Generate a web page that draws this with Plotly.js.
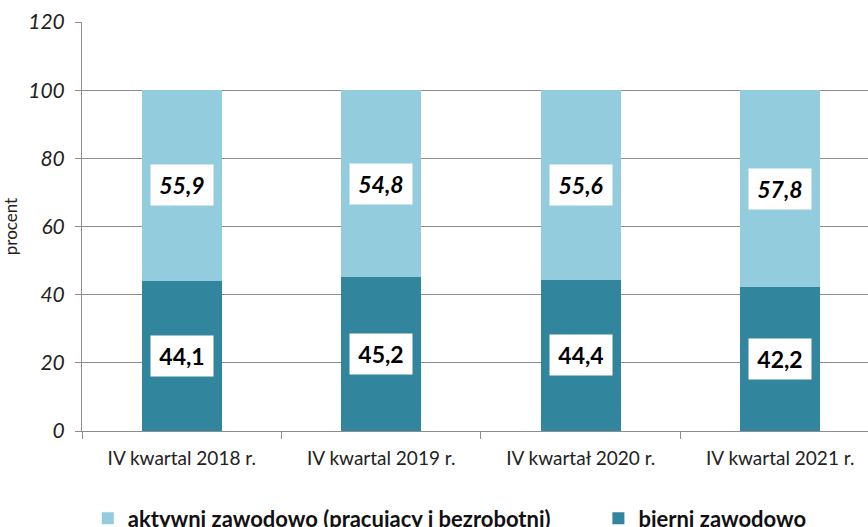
<!DOCTYPE html>
<html>
<head>
<meta charset="utf-8">
<script src="https://cdn.plot.ly/plotly-3.0.1.min.js"></script>
<style>html,body{margin:0;padding:0;background:#fff;}#chart{width:868px;height:527px;}</style>
</head>
<body>
<div id="chart"></div>
<script>
const categories = ["IV kwartal 2018 r.", "IV kwartal 2019 r.", "IV kwartał 2020 r.", "IV kwartal 2021 r."];
const bierni = [44.1, 45.2, 44.4, 42.2];
const aktywni = [55.9, 54.8, 55.6, 57.8];
const seriesNames = ["aktywni zawodowo (pracujący i bezrobotni)", "bierni zawodowo"];
const yTicks = [0, 20, 40, 60, 80, 100, 120];

const fmt = v => v.toFixed(1).replace('.', ',');
const FONT = 'Lato, "Open Sans", sans-serif';

const traces = [
  {type: 'bar', name: '<b>' + seriesNames[1] + '</b>', x: categories, y: bierni, width: 0.4,
   marker: {color: '#31859C'}, hoverinfo: 'none', legend: 'legend2'},
  {type: 'bar', name: '<b>' + seriesNames[0] + '</b>', x: categories, y: aktywni, width: 0.4,
   marker: {color: '#93CDDD'}, hoverinfo: 'none', legend: 'legend'}
];

const annotations = [];
categories.forEach((c, i) => {
  annotations.push({x: c, y: bierni[i] / 2, xref: 'x', yref: 'y', text: '<b>' + fmt(bierni[i]) + '</b>',
    showarrow: false, bgcolor: '#ffffff', borderpad: 5, width: 52, height: 30,
    font: {family: FONT, size: 23, color: '#000'}});
  annotations.push({x: c, y: bierni[i] + aktywni[i] / 2, xref: 'x', yref: 'y', text: '<b><i>' + fmt(aktywni[i]) + '</i></b>',
    showarrow: false, bgcolor: '#ffffff', borderpad: 5, width: 52, height: 30,
    font: {family: FONT, size: 23, color: '#000'}});
});

const legendFont = {family: FONT, size: 22, color: '#111'};
const layout = {
  width: 868, height: 527,
  margin: {l: 82, r: 0, t: 22, b: 96.3, autoexpand: false},
  paper_bgcolor: '#fff', plot_bgcolor: '#fff',
  barmode: 'stack',
  font: {family: FONT, color: '#222'},
  showlegend: true,
  legend: {orientation: 'h', x: 0.0074, xanchor: 'left', y: -0.2136, yanchor: 'middle', font: legendFont},
  legend2: {orientation: 'h', x: 0.657, xanchor: 'left', y: -0.2136, yanchor: 'middle', font: legendFont},
  xaxis: {type: 'category', range: [-0.5, 3.44], tickson: 'boundaries', ticks: 'outside', ticklen: 7,
    tickcolor: '#8c8c8c', showline: true, linecolor: '#8c8c8c', linewidth: 1, showgrid: false,
    ticklabelstandoff: 10,
    tickfont: {family: FONT, size: 19, color: '#222'}, fixedrange: true},
  yaxis: {range: [0, 120], tickvals: yTicks, ticktext: yTicks.map(v => '<i>' + v + '</i>'), ticks: 'outside', ticklen: 6,
    tickcolor: '#8c8c8c', showline: true, linecolor: '#8c8c8c', gridcolor: '#8c8c8c', gridwidth: 1,
    ticklabelstandoff: 6,
    zeroline: false, tickfont: {family: FONT, size: 21, color: '#222'},
    title: {text: 'procent', font: {family: FONT, size: 17, color: '#222'}, standoff: 10}, fixedrange: true},
  annotations: annotations
};

Plotly.newPlot('chart', traces, layout, {displayModeBar: false, staticPlot: true});
</script>
</body>
</html>
